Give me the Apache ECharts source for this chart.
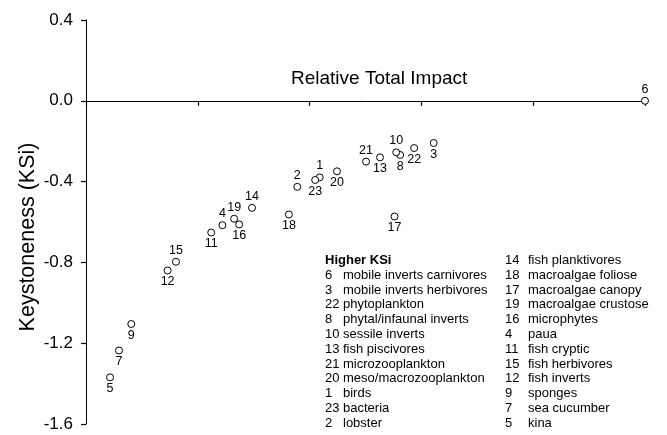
<!DOCTYPE html>
<html>
<head>
<meta charset="utf-8">
<script src="https://cdn.jsdelivr.net/npm/echarts@6/dist/echarts.min.js"></script>
<style>html,body{margin:0;padding:0;background:#fff;}#c{width:667px;height:435px;}</style>
</head>
<body>
<div id="c"></div>
<script>
// Data
const ids    = ['6','3','22','8','10','13','21','20','1','23','2','18','17','14','19','16','4','11','15','12','9','7','5'];
const xVals  = [1.000,0.622,0.587,0.562,0.555,0.526,0.501,0.449,0.418,0.410,0.378,0.363,0.552,0.297,0.265,0.274,0.244,0.224,0.161,0.146,0.081,0.059,0.043];
const yVals  = [0.000,-0.209,-0.234,-0.268,-0.255,-0.280,-0.301,-0.349,-0.379,-0.392,-0.426,-0.563,-0.573,-0.530,-0.584,-0.612,-0.616,-0.652,-0.797,-0.840,-1.105,-1.236,-1.369];
const labelPos = ['top','bottom','bottom','bottom','top','bottom','top','bottom','top','bottom','top','bottom','bottom','top','top','bottom','top','bottom','top','bottom','bottom','bottom','bottom'];

const legendHeader = 'Higher KSi';
const legendCol1Nums  = ['6','3','22','8','10','13','21','20','1','23','2'];
const legendCol1Names = ['mobile inverts carnivores','mobile inverts herbivores','phytoplankton','phytal/infaunal inverts','sessile inverts','fish piscivores','microzooplankton','meso/macrozooplankton','birds','bacteria','lobster'];
const legendCol2Nums  = ['14','18','17','19','16','4','11','15','12','9','7','5'];
const legendCol2Names = ['fish planktivores','macroalgae foliose','macroalgae canopy','macroalgae crustose','microphytes','paua','fish cryptic','fish herbivores','fish inverts','sponges','sea cucumber','kina'];

const FONT = 'Liberation Sans, Arial, sans-serif';
const chart = echarts.init(document.getElementById('c'), null, {renderer: 'canvas'});

const points = ids.map((id, i) => ({
  value: [xVals[i], yVals[i]],
  name: id,
  label: {position: labelPos[i]}
}));

// legend text elements
const legendEls = [];
const rowH = 14.8, top0 = 262;
legendEls.push({type: 'text', left: 325, top: top0 - 8, style: {text: legendHeader, font: 'bold 13px ' + FONT, fill: '#000'}});
legendCol1Nums.forEach((n, i) => {
  const y = top0 + rowH * (i + 1) - 8;
  legendEls.push({type: 'text', left: 325, top: y, style: {text: n, font: '13px ' + FONT, fill: '#000'}});
  legendEls.push({type: 'text', left: 343, top: y, style: {text: legendCol1Names[i], font: '13px ' + FONT, fill: '#000'}});
});
legendCol2Nums.forEach((n, i) => {
  const y = top0 + rowH * i - 8;
  legendEls.push({type: 'text', left: 505, top: y, style: {text: n, font: '13px ' + FONT, fill: '#000'}});
  legendEls.push({type: 'text', left: 528, top: y, style: {text: legendCol2Names[i], font: '13px ' + FONT, fill: '#000'}});
});
legendEls.push({
  type: 'text', x: 28, y: 237, rotation: Math.PI / 2,
  style: {text: 'Keystoneness (KSi)', font: '21.5px ' + FONT, fill: '#000', align: 'center', verticalAlign: 'middle'}
});

chart.setOption({
  backgroundColor: '#fff',
  animation: false,
  textStyle: {fontFamily: FONT},
  title: {
    text: 'Relative Total Impact',
    left: 286, top: 64,
    textStyle: {fontFamily: FONT, fontSize: 19, fontWeight: 'normal', color: '#000'}
  },
  grid: {left: 86, right: 22, top: 20, bottom: 11, containLabel: false},
  xAxis: {
    type: 'value', min: 0, max: 1, interval: 0.2,
    axisLine: {show: true, onZero: true, lineStyle: {color: '#000', width: 1}},
    axisTick: {show: true, inside: false, alignWithLabel: false, length: 5, interval: 0, lineStyle: {color: '#000', width: 1.2}},
    axisLabel: {show: true, color: 'rgba(0,0,0,0)', fontSize: 1},
    splitLine: {show: false}
  },
  yAxis: {
    type: 'value', min: -1.6, max: 0.4, interval: 0.4,
    axisLine: {onZero: false, lineStyle: {color: '#000', width: 1}},
    axisTick: {show: true, inside: false, length: 5, lineStyle: {color: '#000', width: 1.2}},
    axisLabel: {color: '#000', fontSize: 17, fontFamily: FONT, margin: 13,
      formatter: v => v.toFixed(1)},
    splitLine: {show: false}
  },
  series: [{
    type: 'scatter',
    symbol: 'circle',
    symbolSize: 7,
    itemStyle: {color: '#fff', borderColor: '#000', borderWidth: 1, opacity: 1},
    emphasis: {disabled: true},
    label: {show: true, formatter: p => p.name, color: '#000', fontSize: 12.5, fontFamily: FONT, distance: 1},
    data: points
  }],
  graphic: legendEls
});
</script>
</body>
</html>
